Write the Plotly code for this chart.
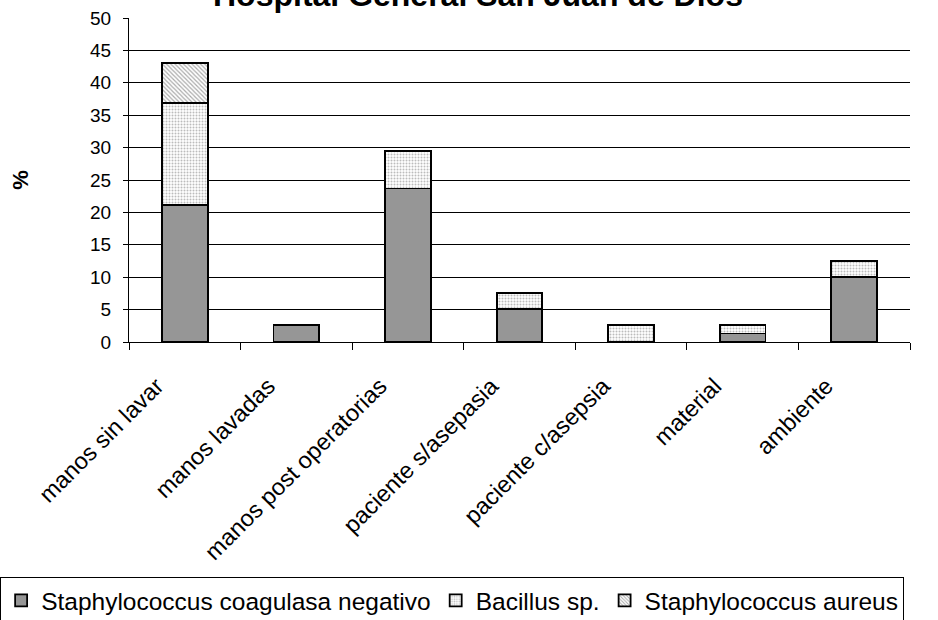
import plotly.graph_objects as go

categories = ["manos sin lavar", "manos lavadas", "manos post operatorias",
              "paciente s/asepasia", "paciente c/asepsia", "material", "ambiente"]
staph_coag_neg = [21.1, 2.6, 23.7, 5.1, 0, 1.3, 10.0]
bacillus = [15.8, 0, 5.8, 2.5, 2.6, 1.3, 2.5]
staph_aureus = [6.1, 0, 0, 0, 0, 0, 0]
y_ticks = [0, 5, 10, 15, 20, 25, 30, 35, 40, 45, 50]

FONT = "Liberation Sans, Arial, sans-serif"
outline = dict(color="black", width=1.8)

fig = go.Figure()
fig.add_trace(go.Bar(
    name="Staphylococcus coagulasa negativo", x=categories, y=staph_coag_neg,
    marker=dict(color="#969696", line=outline)))
fig.add_trace(go.Bar(
    name="Bacillus sp.", x=categories, y=bacillus,
    marker=dict(color="white", line=outline,
                pattern=dict(shape=".", fgcolor="#7a7a7a", bgcolor="white",
                             size=3, solidity=0.35))))
fig.add_trace(go.Bar(
    name="Staphylococcus aureus", x=categories, y=staph_aureus,
    marker=dict(color="white", line=outline,
                pattern=dict(shape="\\", fgcolor="#555555", bgcolor="white",
                             size=3, solidity=0.4))))

fig.update_layout(
    barmode="stack",
    bargap=0.59,
    width=938, height=620,
    margin=dict(l=129, r=28, t=18, b=278, autoexpand=False),
    paper_bgcolor="white", plot_bgcolor="white",
    font=dict(family=FONT, size=19, color="black"),
    showlegend=True,
    legend=dict(orientation="h", x=-0.165, xanchor="left", y=-0.7253, yanchor="top",
                bordercolor="black", borderwidth=1, font=dict(size=24.5),
                traceorder="normal", itemwidth=30),
    annotations=[dict(text="<b>Hospital General San Juan de Dios</b>",
                      x=0.447, xref="paper", y=1.0, yref="paper",
                      yanchor="bottom", yshift=3, showarrow=False,
                      font=dict(size=32, family=FONT))],
)
fig.update_xaxes(
    type="category", tickangle=-45, tickson="boundaries", automargin=False,
    ticks="outside", ticklen=7, tickcolor="black",
    showline=True, linecolor="black", linewidth=1,
    showgrid=False, tickfont=dict(size=23.5),
    ticklabelstandoff=20, ticklabelshift=-28)
fig.update_yaxes(
    range=[0, 50], tickvals=y_ticks, ticks="outside", ticklen=5, automargin=False,
    tickcolor="black", showline=True, linecolor="black", linewidth=1,
    showgrid=True, gridcolor="black", gridwidth=1, zeroline=False,
    tickfont=dict(size=19), ticklabelstandoff=8,
    title=dict(text="<b>%</b>", font=dict(size=22), standoff=55))

fig.write_html("out.html")
